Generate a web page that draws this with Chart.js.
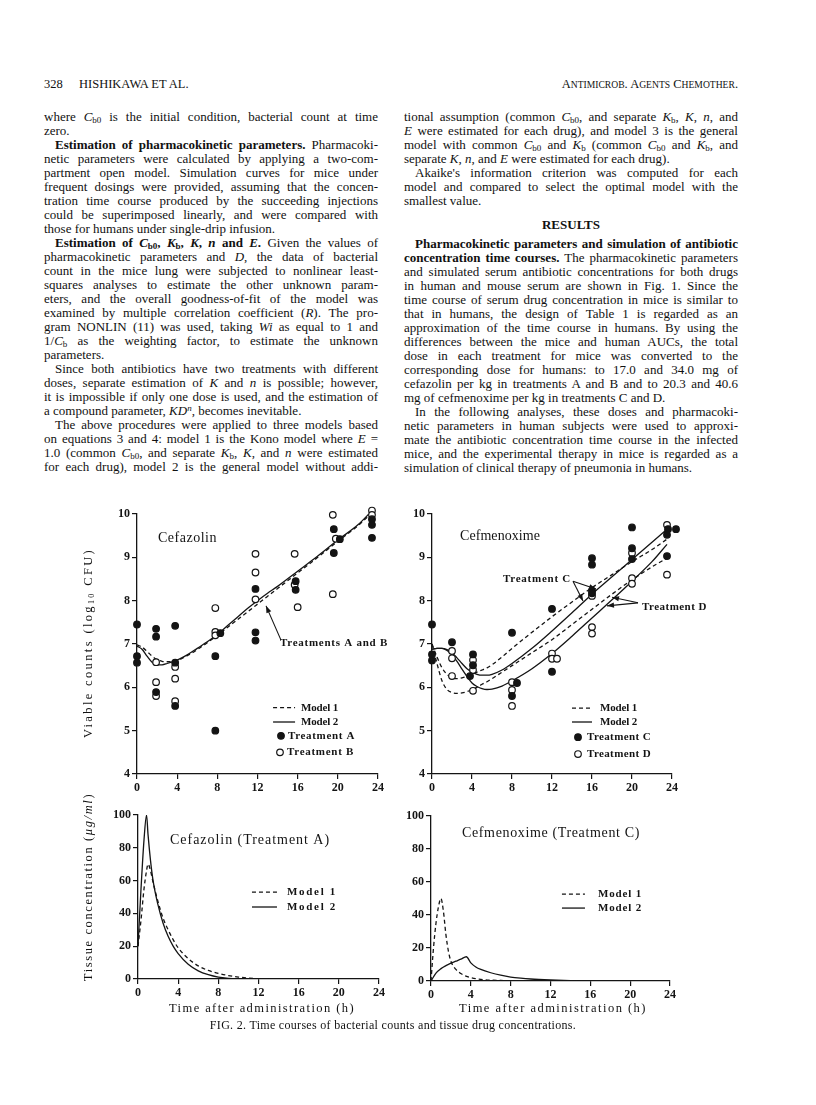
<!DOCTYPE html>
<html><head><meta charset="utf-8">
<script src="https://cdn.jsdelivr.net/npm/chart.js@4.4.0/dist/chart.umd.min.js"></script>
<style>
html,body{margin:0;padding:0;background:#fff;}
body{width:816px;height:1105px;position:relative;overflow:hidden;font-family:'Liberation Serif','Times New Roman',serif;color:#111;}
.ln{position:absolute;height:14px;line-height:14px;font-size:13px;white-space:nowrap;}
.j{text-align:justify;text-align-last:justify;}
.ind{display:inline-block;width:11px;}
sub{font-size:9px;vertical-align:-2px;line-height:0;}
sup{font-size:9px;vertical-align:4px;line-height:0;}
canvas{position:absolute;}
.abs{position:absolute;white-space:nowrap;}
.cen{transform:translate(-50%,-50%);}
.rot{transform:translate(-50%,-50%) rotate(-90deg);}
</style></head><body>

<div class="abs" style="left:44px;top:77px;font-size:12.5px;line-height:14px;">328</div>
<div class="abs" style="left:79px;top:77px;font-size:12.5px;line-height:14px;">HISHIKAWA ET AL.</div>
<div class="abs" style="right:78px;top:77px;font-size:12.5px;line-height:14px;">A<span style="font-size:9.6px">NTIMICROB</span>. A<span style="font-size:9.6px">GENTS</span> C<span style="font-size:9.6px">HEMOTHER</span>.</div>

<div id="text"></div>

<canvas id="c1"></canvas>
<canvas id="c2"></canvas>
<canvas id="c3"></canvas>
<canvas id="c4"></canvas>

<div class="abs rot" id="yt1" style="left:88px;top:643px;font-size:12.5px;">Viable counts (log<sub style="font-size:8px">10</sub> CFU)</div>
<div class="abs rot" id="yt2" style="left:88px;top:887px;font-size:12.5px;">Tissue concentration (<i>μg/ml</i>)</div>
<div class="abs cen" id="xt1" style="left:262px;top:1008px;font-size:12.5px;">Time after administration (h)</div>
<div class="abs cen" id="xt2" style="left:553px;top:1008px;font-size:12.5px;">Time after administration (h)</div>
<div class="abs cen" id="cap" style="left:393px;top:1025px;font-size:12px;">FIG. 2. Time courses of bacterial counts and tissue drug concentrations.</div>

<script>
// ---------------- DATA ----------------
const hourTicks = [0, 4, 8, 12, 16, 20, 24];
const countTicks = [4, 5, 6, 7, 8, 9, 10];
const concTicks = [0, 20, 40, 60, 80, 100];

// Cefazolin, bacterial counts (log10 CFU)
const cfzCurveHours = [0, 0.5, 1, 1.5, 2, 2.5, 3, 4, 5, 6, 7, 8, 9, 10, 11, 12, 13, 14, 16, 18, 20, 22, 23.5];
const cfzModel1 = [6.98, 6.93, 6.83, 6.72, 6.64, 6.6, 6.59, 6.62, 6.73, 6.87, 7.03, 7.2, 7.38, 7.56, 7.74, 7.92, 8.1, 8.28, 8.64, 9.0, 9.37, 9.73, 10.05];
const cfzModel2 = [6.95, 6.88, 6.72, 6.58, 6.52, 6.52, 6.55, 6.63, 6.75, 6.9, 7.05, 7.22, 7.42, 7.62, 7.82, 8.0, 8.17, 8.33, 8.68, 9.03, 9.4, 9.75, 10.1];
const cfzTrtAHours = [0, 0, 0, 1.9, 1.9, 1.9, 3.8, 3.8, 3.8, 7.8, 7.8, 8.3, 11.8, 11.8, 11.8, 15.8, 15.8, 19.6, 19.6, 20.2, 23.4, 23.4, 23.4];
const cfzTrtAValues = [7.45, 6.72, 6.57, 7.35, 7.17, 5.89, 7.42, 6.57, 5.57, 6.72, 5.0, 7.25, 8.27, 7.27, 7.08, 8.45, 8.25, 9.65, 9.1, 9.42, 9.88, 9.75, 9.45];
const cfzTrtBHours = [1.9, 1.9, 1.9, 3.8, 3.8, 3.8, 7.8, 7.8, 7.8, 11.8, 11.8, 11.8, 15.7, 15.7, 16.0, 19.5, 19.5, 19.8, 23.4, 23.4, 23.4];
const cfzTrtBValues = [6.58, 6.12, 5.8, 6.47, 6.2, 5.68, 7.83, 7.28, 7.2, 9.08, 8.65, 8.03, 9.08, 8.37, 7.85, 9.98, 8.15, 9.43, 10.2, 10.08, 9.98];

// Cefmenoxime, bacterial counts (log10 CFU)
const cfmCurveHours = [0, 0.5, 1, 1.5, 2, 2.5, 3, 3.5, 4, 4.5, 5, 5.5, 6, 7, 8, 10, 12, 14, 16, 18, 20, 22, 23.5];
const cfmModel1C = [7.0, 6.7, 6.45, 6.3, 6.22, 6.2, 6.22, 6.25, 6.3, 6.35, 6.4, 6.45, 6.52, 6.7, 6.9, 7.27, 7.63, 7.97, 8.3, 8.6, 8.9, 9.18, 9.42];
const cfmModel1D = [7.0, 6.55, 6.15, 5.95, 5.88, 5.86, 5.87, 5.9, 5.95, 6.0, 6.07, 6.13, 6.2, 6.35, 6.5, 6.8, 7.1, 7.45, 7.8, 8.15, 8.48, 8.78, 8.98];
const cfmModel2C = [6.88, 6.9, 6.9, 6.87, 6.8, 6.68, 6.55, 6.43, 6.35, 6.3, 6.28, 6.28, 6.3, 6.4, 6.55, 6.9, 7.3, 7.72, 8.15, 8.55, 8.95, 9.35, 9.65];
const cfmModel2D = [6.88, 6.9, 6.9, 6.85, 6.75, 6.6, 6.42, 6.25, 6.1, 6.02, 5.97, 5.95, 5.96, 6.03, 6.15, 6.43, 6.78, 7.18, 7.6, 8.02, 8.45, 8.9, 9.3];
const cfmTrtCHours = [0, 0, 0, 2, 3.8, 4.1, 4.1, 8, 8, 8.5, 12, 12, 16, 16, 16, 16, 20, 20, 20, 23.5, 23.5, 23.6, 24.4];
const cfmTrtCValues = [7.45, 6.76, 6.62, 7.04, 6.26, 6.76, 6.51, 7.26, 5.8, 6.1, 7.81, 6.36, 8.98, 8.83, 8.23, 8.17, 9.69, 9.21, 8.96, 9.52, 9.03, 9.65, 9.65];
const cfmTrtDHours = [2, 2, 2, 4.1, 4.1, 4.1, 8, 8, 8, 12, 12, 12.5, 16, 16, 16, 20, 20, 20, 23.5, 23.5];
const cfmTrtDValues = [6.84, 6.67, 6.26, 6.63, 6.4, 5.92, 6.12, 5.94, 5.57, 6.78, 6.66, 6.66, 8.11, 7.39, 7.24, 9.1, 8.52, 8.39, 9.75, 8.6];

// Cefazolin (Treatment A), tissue concentration (ug/ml)
const cfzTissueHours = [0, 0.3, 0.6, 0.85, 1.0, 1.25, 1.5, 2, 2.5, 3, 3.5, 4, 5, 6, 7, 8, 9, 10, 11, 12, 13];
const cfzTissueModel1 = [20, 36, 55, 66, 70, 66, 59, 47, 37, 30, 24, 19, 12.5, 8, 5.2, 3.4, 2.1, 1.2, 0.6, 0.2, 0];
const cfzTissueModel2 = [20, 55, 85, 100, 88, 72, 60, 45, 34, 26, 20, 15.5, 9, 5, 2.6, 1.1, 0.4, 0.1, 0, 0, 0];

// Cefmenoxime (Treatment C), tissue concentration (ug/ml)
const cfmTissueHoursM1 = [0, 0.25, 0.5, 0.75, 1.0, 1.25, 1.5, 1.75, 2, 2.5, 3, 3.5, 4, 5, 6, 7, 8, 10, 12, 14];
const cfmTissueModel1 = [0, 20, 35, 45, 50, 42, 28, 18, 12, 7, 4.5, 3, 2, 1, 0.5, 0.3, 0.2, 0.1, 0, 0];
const cfmTissueHoursM2 = [0, 0.5, 1, 1.5, 2, 2.5, 3, 3.55, 4, 4.5, 5, 6, 7, 8, 9, 10, 12, 14, 15];
const cfmTissueModel2 = [0, 4.8, 7.5, 9.3, 10.8, 12, 13.2, 14.7, 11, 8.5, 7, 5, 3.5, 2.4, 1.7, 1.2, 0.6, 0.2, 0];

// ---------------- TEXT ----------------
const I = '<span class="ind"></span>';
const leftLines = [
 ['where <i>C</i><sub>b0</sub> is the initial condition, bacterial count at time', 1],
 ['zero.', 0],
 [I + '<b>Estimation of pharmacokinetic parameters.</b> Pharmacoki-', 1],
 ['netic parameters were calculated by applying a two-com-', 1],
 ['partment open model. Simulation curves for mice under', 1],
 ['frequent dosings were provided, assuming that the concen-', 1],
 ['tration time course produced by the succeeding injections', 1],
 ['could be superimposed linearly, and were compared with', 1],
 ['those for humans under single-drip infusion.', 0],
 [I + '<b>Estimation of <i>C</i><sub>b0</sub>, <i>K</i><sub>b</sub>, <i>K</i>, <i>n</i> and <i>E</i>.</b> Given the values of', 1],
 ['pharmacokinetic parameters and <i>D</i>, the data of bacterial', 1],
 ['count in the mice lung were subjected to nonlinear least-', 1],
 ['squares analyses to estimate the other unknown param-', 1],
 ['eters, and the overall goodness-of-fit of the model was', 1],
 ['examined by multiple correlation coefficient (<i>R</i>). The pro-', 1],
 ['gram NONLIN (11) was used, taking <i>Wi</i> as equal to 1 and', 1],
 ['1/<i>C</i><sub>b</sub> as the weighting factor, to estimate the unknown', 1],
 ['parameters.', 0],
 [I + 'Since both antibiotics have two treatments with different', 1],
 ['doses, separate estimation of <i>K</i> and <i>n</i> is possible; however,', 1],
 ['it is impossible if only one dose is used, and the estimation of', 1],
 ['a compound parameter, <i>KD<sup>n</sup></i>, becomes inevitable.', 0],
 [I + 'The above procedures were applied to three models based', 1],
 ['on equations 3 and 4: model 1 is the Kono model where <i>E</i> =', 1],
 ['1.0 (common <i>C</i><sub>b0</sub>, and separate <i>K</i><sub>b</sub>, <i>K</i>, and <i>n</i> were estimated', 1],
 ['for each drug), model 2 is the general model without addi-', 1]
];
const rightLinesA = [
 ['tional assumption (common <i>C</i><sub>b0</sub>, and separate <i>K</i><sub>b</sub>, <i>K</i>, <i>n</i>, and', 1],
 ['<i>E</i> were estimated for each drug), and model 3 is the general', 1],
 ['model with common <i>C</i><sub>b0</sub> and <i>K</i><sub>b</sub> (common <i>C</i><sub>b0</sub> and <i>K</i><sub>b</sub>, and', 1],
 ['separate <i>K</i>, <i>n</i>, and <i>E</i> were estimated for each drug).', 0],
 [I + 'Akaike\'s information criterion was computed for each', 1],
 ['model and compared to select the optimal model with the', 1],
 ['smallest value.', 0]
];
const rightLinesB = [
 [I + '<b>Pharmacokinetic parameters and simulation of antibiotic</b>', 1],
 ['<b>concentration time courses.</b> The pharmacokinetic parameters', 1],
 ['and simulated serum antibiotic concentrations for both drugs', 1],
 ['in human and mouse serum are shown in Fig. 1. Since the', 1],
 ['time course of serum drug concentration in mice is similar to', 1],
 ['that in humans, the design of Table 1 is regarded as an', 1],
 ['approximation of the time course in humans. By using the', 1],
 ['differences between the mice and human AUCs, the total', 1],
 ['dose in each treatment for mice was converted to the', 1],
 ['corresponding dose for humans: to 17.0 and 34.0 mg of', 1],
 ['cefazolin per kg in treatments A and B and to 20.3 and 40.6', 1],
 ['mg of cefmenoxime per kg in treatments C and D.', 0],
 [I + 'In the following analyses, these doses and pharmacoki-', 1],
 ['netic parameters in human subjects were used to approxi-', 1],
 ['mate the antibiotic concentration time course in the infected', 1],
 ['mice, and the experimental therapy in mice is regarded as a', 1],
 ['simulation of clinical therapy of pneumonia in humans.', 0]
];

const COLW = 334;
const host = document.getElementById('text');
function addLines(lines, left, top0) {
  lines.forEach((l, i) => {
    const d = document.createElement('div');
    d.className = 'ln' + (l[1] ? ' j' : '');
    d.style.left = left + 'px';
    d.style.top = (top0 + 14 * i) + 'px';
    d.style.width = COLW + 'px';
    d.innerHTML = l[0];
    host.appendChild(d);
    // shrink letter spacing if the line would overflow its column
    const s = document.createElement('span');
    s.innerHTML = l[0];
    s.style.cssText = 'position:absolute;visibility:hidden;white-space:nowrap;font-size:13px;font-family:inherit';
    document.body.appendChild(s);
    const w = s.getBoundingClientRect().width;
    s.remove();
    const target = COLW - 6;
    if (w > target) {
      const n = d.textContent.length;
      d.style.letterSpacing = ((target - w) / n) + 'px';
    }
  });
}
addLines(leftLines, 44, 110);
addLines(rightLinesA, 404, 110);
const res = document.createElement('div');
res.className = 'ln';
res.style.cssText += 'left:404px;width:334px;top:218px;text-align:center;font-weight:bold;font-size:13px;';
res.textContent = 'RESULTS';
host.appendChild(res);
addLines(rightLinesB, 404, 237);

function fitWidth(id, W) {
  const el = document.getElementById(id);
  const w0 = el.offsetWidth;
  const n = el.textContent.length;
  el.style.letterSpacing = ((W - w0) / n) + 'px';
}
fitWidth('yt1', 190);
fitWidth('yt2', 188);
fitWidth('xt1', 186);
fitWidth('xt2', 188);
fitWidth('cap', 366);

// ---------------- CHARTS ----------------
const INK = '#141414';
const pts = (h, v) => h.map((x, i) => ({ x: x, y: v[i] }));
const curve = (h, v, dashed) => ({
  data: pts(h, v), showLine: true, pointRadius: 0, borderColor: INK, borderWidth: 1.3,
  borderDash: dashed ? [4, 3] : [], cubicInterpolationMode: 'monotone', fill: false, order: 2
});
const dots = (h, v, filled) => ({
  data: pts(h, v), showLine: false, pointRadius: 3.3, pointHoverRadius: 3.3,
  pointBackgroundColor: filled ? INK : '#fff', pointBorderColor: INK, pointBorderWidth: 1.2,
  clip: false, order: 1
});

function decoPlugin(items) {
  return {
    id: 'deco',
    afterDatasetsDraw(chart) {
      const ctx = chart.ctx, xs = chart.scales.x, ys = chart.scales.y;
      const X = t => xs.getPixelForValue(t), Y = v => ys.getPixelForValue(v);
      ctx.save();
      ctx.fillStyle = INK; ctx.strokeStyle = INK;
      for (const it of items) {
        if (it.k === 'text') {
          ctx.font = it.font;
          ctx.letterSpacing = '0px';
          const w0 = ctx.measureText(it.s).width;
          const sp = it.w ? (it.w - w0) / it.s.length : 0;
          ctx.letterSpacing = sp + 'px';
          ctx.textAlign = 'left'; ctx.textBaseline = 'middle';
          ctx.fillText(it.s, X(it.t), Y(it.v));
          ctx.letterSpacing = '0px';
        } else if (it.k === 'seg') {
          ctx.beginPath();
          ctx.lineWidth = 1.3;
          ctx.setLineDash(it.dash ? [4, 3] : []);
          ctx.moveTo(X(it.t1), Y(it.v)); ctx.lineTo(X(it.t2), Y(it.v));
          ctx.stroke();
          ctx.setLineDash([]);
        } else if (it.k === 'dot') {
          ctx.beginPath();
          ctx.arc(X(it.t), Y(it.v), 3.3, 0, Math.PI * 2);
          ctx.fillStyle = it.fill ? INK : '#fff';
          ctx.fill();
          ctx.lineWidth = 1.2; ctx.stroke();
          ctx.fillStyle = INK;
        } else if (it.k === 'arrow') {
          const x1 = X(it.t1), y1 = Y(it.v1), x2 = X(it.t2), y2 = Y(it.v2);
          ctx.beginPath(); ctx.lineWidth = 1.1;
          ctx.moveTo(x1, y1); ctx.lineTo(x2, y2); ctx.stroke();
          const a = Math.atan2(y2 - y1, x2 - x1), L = 7, H = 2.6;
          ctx.beginPath();
          ctx.moveTo(x2, y2);
          ctx.lineTo(x2 - L * Math.cos(a) + H * Math.sin(a), y2 - L * Math.sin(a) - H * Math.cos(a));
          ctx.lineTo(x2 - L * Math.cos(a) - H * Math.sin(a), y2 - L * Math.sin(a) + H * Math.cos(a));
          ctx.closePath(); ctx.fill();
        }
      }
      ctx.restore();
    }
  };
}

const PADL = 45, PADR = 40, PADT = 15, PADB = 30;
const tickFont = { family: "'Liberation Serif', serif", size: 12, weight: 'bold' };

function makePanel(id, box, yMin, yMax, yTicks, datasets, deco) {
  const cv = document.getElementById(id);
  const W = box.x1 - box.x0 + PADL + PADR, H = box.y1 - box.y0 + PADT + PADB;
  cv.width = W; cv.height = H;
  cv.style.left = (box.x0 - PADL) + 'px';
  cv.style.top = (box.y0 - PADT) + 'px';
  cv.style.width = W + 'px'; cv.style.height = H + 'px';
  const axisCommon = {
    type: 'linear',
    grid: { display: true, drawOnChartArea: false, drawTicks: true, tickLength: 5, color: INK, lineWidth: 1.2 },
    border: { display: true, color: INK, width: 1.3 },
    ticks: { color: INK, font: tickFont, padding: 2, autoSkip: false, maxRotation: 0 }
  };
  return new Chart(cv, {
    type: 'scatter',
    data: { datasets: datasets },
    options: {
      responsive: false, animation: false, devicePixelRatio: 1,
      layout: { padding: { left: 0, right: PADR, top: PADT, bottom: 0 } },
      plugins: { legend: { display: false }, tooltip: { enabled: false } },
      events: [],
      scales: {
        x: Object.assign({}, axisCommon, {
          min: 0, max: 24,
          afterBuildTicks: s => { s.ticks = hourTicks.map(v => ({ value: v })); },
          afterFit: s => { s.height = PADB; }
        }),
        y: Object.assign({}, axisCommon, {
          min: yMin, max: yMax,
          afterBuildTicks: s => { s.ticks = yTicks.map(v => ({ value: v })); },
          afterFit: s => { s.width = PADL; }
        })
      }
    },
    plugins: [decoPlugin(deco)]
  });
}

const LBL = "14px 'Liberation Serif', serif";
const SML = "bold 11px 'Liberation Serif', serif";

makePanel('c1', { x0: 137, x1: 378, y0: 514, y1: 774 }, 4, 10, countTicks, [
  dots(cfzTrtAHours, cfzTrtAValues, true),
  dots(cfzTrtBHours, cfzTrtBValues, false),
  curve(cfzCurveHours, cfzModel1, true),
  curve(cfzCurveHours, cfzModel2, false)
], [
  { k: 'text', s: 'Cefazolin', t: 2.09, v: 9.45, w: 59, font: LBL },
  { k: 'text', s: 'Treatments A and B', t: 14.24, v: 7.02, w: 108, font: SML },
  { k: 'arrow', t1: 14.34, v1: 7.09, t2: 12.85, v2: 7.88 },
  { k: 'seg', t1: 13.55, t2: 15.74, v: 5.53, dash: true },
  { k: 'text', s: 'Model 1', t: 16.33, v: 5.53, w: 37, font: SML },
  { k: 'seg', t1: 13.55, t2: 15.74, v: 5.2, dash: false },
  { k: 'text', s: 'Model 2', t: 16.33, v: 5.2, w: 37, font: SML },
  { k: 'dot', t: 14.34, v: 4.88, fill: true },
  { k: 'text', s: 'Treatment A', t: 15.04, v: 4.88, w: 67, font: SML },
  { k: 'dot', t: 14.24, v: 4.5, fill: false },
  { k: 'text', s: 'Treatment B', t: 14.94, v: 4.5, w: 67, font: SML }
]);

makePanel('c2', { x0: 432, x1: 672, y0: 514, y1: 774 }, 4, 10, countTicks, [
  dots(cfmTrtCHours, cfmTrtCValues, true),
  dots(cfmTrtDHours, cfmTrtDValues, false),
  curve(cfmCurveHours, cfmModel1C, true),
  curve(cfmCurveHours, cfmModel1D, true),
  curve(cfmCurveHours, cfmModel2C, false),
  curve(cfmCurveHours, cfmModel2D, false)
], [
  { k: 'text', s: 'Cefmenoxime', t: 2.8, v: 9.49, w: 80, font: LBL },
  { k: 'text', s: 'Treatment C', t: 7.1, v: 8.5, w: 68, font: SML },
  { k: 'arrow', t1: 14.1, v1: 8.45, t2: 15.1, v2: 7.99 },
  { k: 'arrow', t1: 14.1, v1: 8.45, t2: 16.4, v2: 8.27 },
  { k: 'text', s: 'Treatment D', t: 21.0, v: 7.85, w: 65, font: SML },
  { k: 'arrow', t1: 20.6, v1: 7.95, t2: 18.0, v2: 8.08 },
  { k: 'arrow', t1: 20.6, v1: 7.95, t2: 17.5, v2: 7.88 },
  { k: 'seg', t1: 14.0, t2: 16.0, v: 5.52, dash: true },
  { k: 'text', s: 'Model 1', t: 16.8, v: 5.52, w: 37, font: SML },
  { k: 'seg', t1: 14.0, t2: 16.0, v: 5.2, dash: false },
  { k: 'text', s: 'Model 2', t: 16.8, v: 5.2, w: 37, font: SML },
  { k: 'dot', t: 14.6, v: 4.85, fill: true },
  { k: 'text', s: 'Treatment C', t: 15.5, v: 4.85, w: 64, font: SML },
  { k: 'dot', t: 14.6, v: 4.46, fill: false },
  { k: 'text', s: 'Treatment D', t: 15.5, v: 4.46, w: 64, font: SML }
]);

makePanel('c3', { x0: 138, x1: 379, y0: 815, y1: 979 }, 0, 100, concTicks, [
  curve(cfzTissueHours, cfzTissueModel1, true),
  curve(cfzTissueHours, cfzTissueModel2, false)
], [
  { k: 'text', s: 'Cefazolin (Treatment A)', t: 3.19, v: 84.8, w: 160, font: LBL },
  { k: 'seg', t1: 11.35, t2: 13.84, v: 53, dash: true },
  { k: 'text', s: 'Model 1', t: 14.84, v: 53, w: 50, font: SML },
  { k: 'seg', t1: 11.35, t2: 13.84, v: 43.9, dash: false },
  { k: 'text', s: 'Model 2', t: 14.84, v: 43.9, w: 50, font: SML }
]);

makePanel('c4', { x0: 431, x1: 670, y0: 816, y1: 981 }, 0, 100, concTicks, [
  curve(cfmTissueHoursM1, cfmTissueModel1, true),
  curve(cfmTissueHoursM2, cfmTissueModel2, false)
], [
  { k: 'text', s: 'Cefmenoxime (Treatment C)', t: 3.11, v: 89.7, w: 178, font: LBL },
  { k: 'seg', t1: 13.15, t2: 15.46, v: 52.7, dash: true },
  { k: 'text', s: 'Model 1', t: 16.77, v: 52.7, w: 44, font: SML },
  { k: 'seg', t1: 13.15, t2: 15.46, v: 44.2, dash: false },
  { k: 'text', s: 'Model 2', t: 16.77, v: 44.2, w: 44, font: SML }
]);
</script>
</body></html>
